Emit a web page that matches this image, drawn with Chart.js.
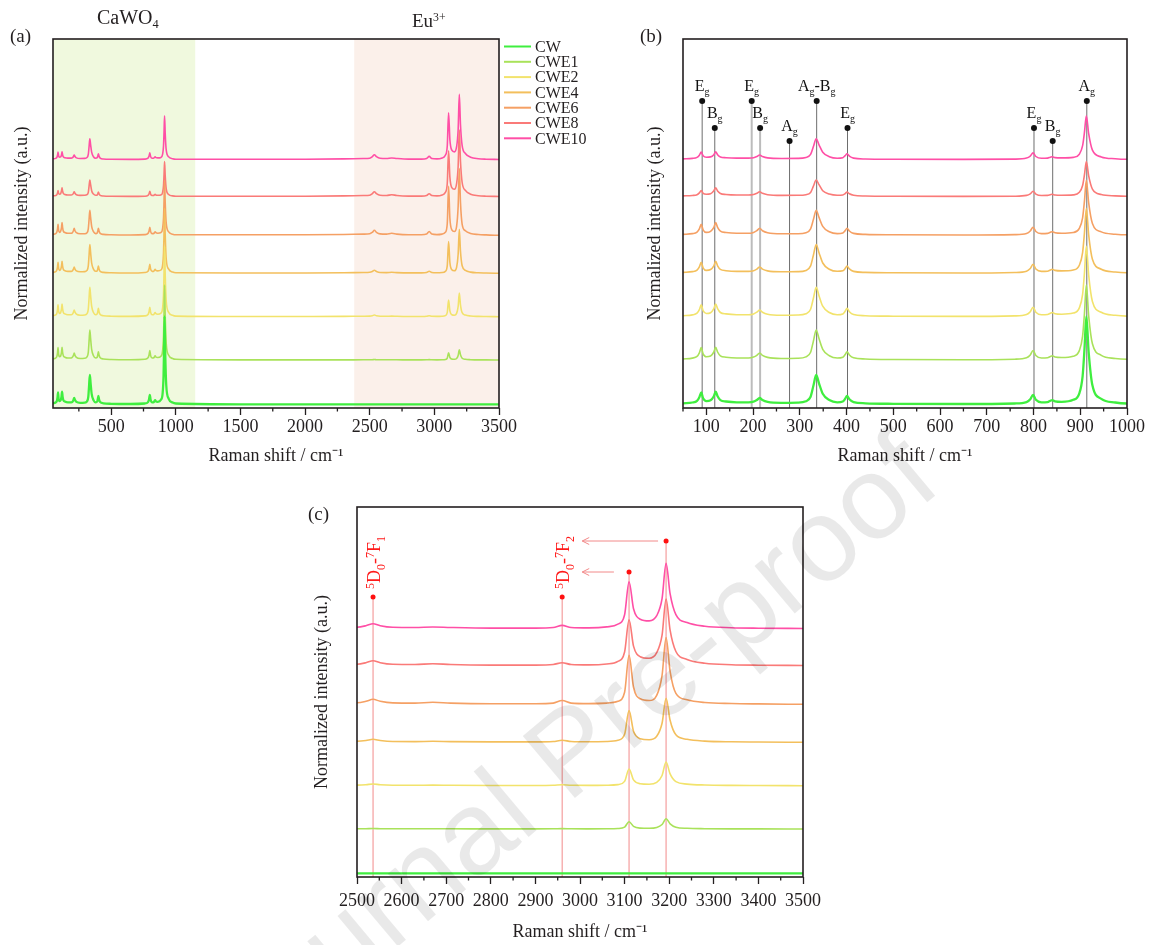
<!DOCTYPE html>
<html>
<head>
<meta charset="utf-8">
<title>Raman spectra of CaWO4:Eu3+</title>
<script src="https://cdn.jsdelivr.net/npm/chart.js@4.4.1/dist/chart.umd.min.js"></script>
<style>
  html, body { margin: 0; padding: 0; background: #ffffff; }
  #page { position: relative; width: 1152px; height: 945px; overflow: hidden;
          font-family: "Liberation Serif", "Times New Roman", serif; color: #231f20; }
  #page canvas { position: absolute; }
  .lbl { position: absolute; white-space: nowrap; line-height: 1; }
  .lbl sub { font-size: 0.62em; vertical-align: -0.3em; line-height: 0; }
  .lbl sup { font-size: 0.62em; vertical-align: 0.55em; line-height: 0; }
  #wm { position: absolute; white-space: nowrap; font-family: "Liberation Sans", Arial, sans-serif;
        font-size: 118px; line-height: 1; color: rgba(0,0,0,0.085);
        transform-origin: 0 100px; transform: rotate(-40deg); left: 246px; top: 974px; pointer-events: none; }
</style>
</head>
<body>
<div id="page">
  <canvas id="panelA" width="600" height="470" style="left:0;top:0"></canvas>
  <canvas id="panelB" width="552" height="470" style="left:600px;top:0"></canvas>
  <canvas id="panelC" width="560" height="465" style="left:290px;top:480px"></canvas>
  <div class="lbl" style="left:10px;top:26px;font-size:19px">(a)</div>
  <div class="lbl" style="left:640px;top:26px;font-size:19px">(b)</div>
  <div class="lbl" style="left:308px;top:504px;font-size:19px">(c)</div>
  <div class="lbl" style="left:97px;top:7px;font-size:20px">CaWO<sub>4</sub></div>
  <div class="lbl" style="left:412px;top:11px;font-size:19px">Eu<sup>3+</sup></div>
  <div id="wm">Journal Pre-proof</div>
</div>
<script>
// Raman shift grid (cm-1): lattice / internal W-O modes, then the Eu3+ luminescence range
const shiftLattice = [50,70,80,85,89,93,100,109,116,120, 124,130,142,165,190,201,208,214,220,231,
  260,295,313,323,329,335,341,349,363,380, 392,397,401,406,415,440,500,650,760,785,
  793,799,805,817,830,836,840,846,860,885, 898,905,909,913,918,926,945,975,1000];
const shiftEu = [1500,2000,2300,2450,2500,2520,2536,2552,2580,2630, 2670,2710,2800,2900,2940,2960,2980,3020,3060,3085,
  3100,3110,3120,3135,3155,3172,3184,3193,3202,3215, 3240,3280,3340,3400,3500];

const samples = ['CW','CWE1','CWE2','CWE4','CWE6','CWE8','CWE10'];

// normalized intensity above each trace's own baseline
const cwLattice = [0.10,0.18,0.35,0.70,1.20,0.60,0.32,0.40,0.80,1.27, 0.80,0.42,0.28,0.20,0.20,0.26,0.42,0.63,0.42,0.24,
  0.15,0.17,0.30,0.75,1.85,2.93,2.10,1.05,0.42,0.20, 0.28,0.55,0.83,0.50,0.22,0.10,0.05,0.03,0.08,0.22,
  0.50,0.95,0.45,0.20,0.22,0.35,0.42,0.30,0.25,0.45, 1.10,2.80,5.50,8.80,5.20,1.90,0.55,0.18,0.08];
const cwe1Lattice = [0.10,0.19,0.36,0.72,1.24,0.62,0.33,0.40,0.80,1.27, 0.80,0.42,0.28,0.20,0.20,0.29,0.46,0.70,0.46,0.26,
  0.15,0.17,0.31,0.77,1.89,3.00,2.14,1.07,0.43,0.20, 0.28,0.55,0.83,0.50,0.22,0.10,0.05,0.03,0.08,0.22,
  0.50,0.95,0.45,0.20,0.22,0.35,0.42,0.30,0.25,0.38, 0.94,2.38,4.68,7.50,4.42,1.62,0.47,0.15,0.07];
const cwe2Lattice = [0.10,0.18,0.35,0.70,1.20,0.60,0.32,0.40,0.80,1.27, 0.80,0.42,0.28,0.20,0.20,0.28,0.45,0.67,0.45,0.25,
  0.15,0.17,0.30,0.75,1.85,2.93,2.10,1.05,0.42,0.20, 0.28,0.55,0.83,0.50,0.22,0.10,0.05,0.03,0.08,0.22,
  0.50,0.95,0.45,0.20,0.22,0.35,0.42,0.30,0.25,0.36, 0.88,2.24,4.40,7.04,4.16,1.52,0.44,0.14,0.06];
const cwe4Lattice = [0.09,0.17,0.32,0.64,1.10,0.55,0.29,0.38,0.75,1.19, 0.75,0.39,0.26,0.19,0.19,0.26,0.42,0.63,0.42,0.24,
  0.15,0.17,0.29,0.74,1.81,2.87,2.06,1.03,0.41,0.20, 0.25,0.48,0.73,0.44,0.19,0.09,0.05,0.03,0.08,0.21,
  0.48,0.90,0.43,0.19,0.21,0.33,0.40,0.29,0.24,0.33, 0.81,2.07,4.07,6.51,3.85,1.41,0.41,0.13,0.06];
const cwe6Lattice = [0.09,0.17,0.32,0.64,1.10,0.55,0.29,0.40,0.80,1.27, 0.80,0.42,0.28,0.20,0.20,0.29,0.46,0.70,0.46,0.26,
  0.15,0.16,0.26,0.64,1.57,2.49,1.79,0.89,0.36,0.17, 0.24,0.47,0.71,0.43,0.19,0.09,0.05,0.03,0.07,0.19,
  0.43,0.81,0.38,0.17,0.19,0.30,0.36,0.26,0.21,0.28, 0.69,1.75,3.44,5.50,3.25,1.19,0.34,0.11,0.05];
const cwe8Lattice = [0.08,0.12,0.20,0.38,0.62,0.34,0.25,0.30,0.60,0.90, 0.57,0.32,0.22,0.17,0.17,0.22,0.34,0.50,0.34,0.20,
  0.13,0.14,0.20,0.43,1.05,1.67,1.20,0.60,0.26,0.14, 0.17,0.31,0.47,0.29,0.14,0.07,0.04,0.03,0.05,0.13,
  0.29,0.54,0.26,0.12,0.13,0.20,0.24,0.17,0.14,0.18, 0.44,1.12,2.20,3.52,2.08,0.76,0.22,0.08,0.04];
const cwe10Lattice = [0.08,0.13,0.23,0.45,0.77,0.40,0.25,0.28,0.50,0.80, 0.50,0.28,0.20,0.16,0.16,0.20,0.32,0.47,0.32,0.18,
  0.12,0.13,0.22,0.53,1.31,2.08,1.49,0.75,0.30,0.15, 0.20,0.40,0.60,0.36,0.16,0.07,0.04,0.03,0.06,0.16,
  0.36,0.68,0.32,0.14,0.16,0.25,0.30,0.21,0.18,0.23, 0.55,1.40,2.75,4.40,2.60,0.95,0.28,0.09,0.04];

const cwEu = [0,0,0,0,0,0,0,0,0,0, 0,0,0,0,0,0,0,0,0,0, 0,0,0,0,0,0,0,0,0,0, 0,0,0,0,0];
const cwe1Eu = [0.01,0.01,0.01,0.02,0.02,0.03,0.05,0.03,0.02,0.02, 0.02,0.02,0.01,0.01,0.02,0.04,0.02,0.01,0.02,0.05,
  0.19,0.73,0.26,0.09,0.07,0.15,0.45,1.03,0.52,0.18, 0.07,0.03,0.01,0.01,0.00];
const cwe2Eu = [0.02,0.02,0.03,0.05,0.06,0.10,0.17,0.10,0.05,0.04, 0.06,0.04,0.02,0.02,0.04,0.10,0.04,0.03,0.05,0.11,
  0.43,1.67,0.58,0.20,0.15,0.33,1.02,2.37,1.18,0.40, 0.16,0.07,0.03,0.02,0.00];
const cwe4Eu = [0.03,0.03,0.05,0.08,0.10,0.18,0.30,0.18,0.08,0.07, 0.10,0.07,0.04,0.04,0.08,0.20,0.08,0.05,0.08,0.20,
  0.80,3.17,1.10,0.36,0.25,0.60,1.90,4.40,2.20,0.75, 0.30,0.12,0.05,0.03,0.00];
const cwe6Eu = [0.05,0.05,0.08,0.12,0.15,0.30,0.50,0.30,0.14,0.12, 0.20,0.12,0.06,0.06,0.12,0.38,0.12,0.07,0.12,0.30,
  1.20,4.90,1.70,0.55,0.38,0.90,2.90,6.67,3.30,1.10, 0.45,0.18,0.08,0.04,0.00];
const cwe8Eu = [0.05,0.05,0.08,0.12,0.15,0.30,0.50,0.30,0.14,0.12, 0.20,0.12,0.06,0.06,0.12,0.30,0.12,0.08,0.17,0.43,
  1.37,4.60,1.96,0.90,0.74,1.30,3.05,6.67,3.55,1.42, 0.63,0.25,0.10,0.05,0.02];
const cwe10Eu = [0.05,0.05,0.08,0.12,0.15,0.30,0.50,0.30,0.14,0.12, 0.17,0.12,0.06,0.06,0.12,0.33,0.12,0.08,0.18,0.45,
  1.40,4.70,2.00,0.95,0.78,1.30,3.00,6.53,3.50,1.40, 0.62,0.25,0.10,0.05,0.02];

// vertical stacking of the traces
const baseline = [0.37, 4.80, 9.13, 13.47, 17.27, 21.13, 24.83];

// tick values
const ticksA = [500,1000,1500,2000,2500,3000,3500];
const minorA = [250,750,1250,1750,2250,2750,3250];
const ticksB = [100,200,300,400,500,600,700,800,900,1000];
const minorB = [50,150,250,350,450,550,650,750,850,950];
const ticksC = [2500,2600,2700,2800,2900,3000,3100,3200,3300,3400,3500];
const minorC = [2550,2650,2750,2850,2950,3050,3150,3250,3350,3450];

// CaWO4 vibrational mode assignments
const modeShift = [91,118,197,215,278,336,402,801,841,914];
const modeLabel = ['E_g','B_g','E_g','B_g','A_g','A_g-B_g','E_g','E_g','B_g','A_g'];
const modeMark  = [30.7,28.0,30.7,28.0,26.7,30.7,28.0,28.0,26.7,30.7];

// Eu3+ 5D0 -> 7FJ transitions
const euShift = [2536,2960,3110,3193];
const euMark  = [28.0,28.0,30.5,33.6];
const euLabel = ['^5D_0-^7F_1','^5D_0-^7F_2'];

const lattice = [cwLattice,cwe1Lattice,cwe2Lattice,cwe4Lattice,cwe6Lattice,cwe8Lattice,cwe10Lattice];
const europium = [cwEu,cwe1Eu,cwe2Eu,cwe4Eu,cwe6Eu,cwe8Eu,cwe10Eu];
const colors = ['#3fee3f','#a9e25a','#f2e36c','#f3bf5c','#f5a064','#fa7a78','#ff4fa6'];
const INK = '#231f20';
const SERIF = '"Liberation Serif", "Times New Roman", serif';

Chart.defaults.font.family = SERIF;
Chart.defaults.color = INK;

function buildDatasets() {
  return samples.map((name, i) => ({
    label: name,
    data: shiftLattice.map((x, k) => ({ x, y: baseline[i] + lattice[i][k] }))
      .concat(shiftEu.map((x, k) => ({ x, y: baseline[i] + europium[i][k] }))),
    borderColor: colors[i],
    borderWidth: i === 0 ? 2.3 : 1.6,
    pointRadius: 0,
    cubicInterpolationMode: 'monotone',
    fill: false
  }));
}

// text with _sub and ^sup single-character tokens
function richParts(str) {
  const parts = [];
  let i = 0;
  while (i < str.length) {
    const c = str[i];
    if (c === '_' || c === '^') { parts.push({ t: str[i + 1], k: c }); i += 2; }
    else {
      let t = '';
      while (i < str.length && str[i] !== '_' && str[i] !== '^') t += str[i++];
      parts.push({ t, k: '' });
    }
  }
  return parts;
}
function drawRich(ctx, str, x, y, size, center) {
  const parts = richParts(str);
  const small = Math.round(size * 0.64);
  const widths = parts.map(p => { ctx.font = (p.k ? small : size) + 'px ' + SERIF; return ctx.measureText(p.t).width; });
  const total = widths.reduce((a, b) => a + b, 0);
  let cx = center ? x - total / 2 : x;
  parts.forEach((p, i) => {
    ctx.font = (p.k ? small : size) + 'px ' + SERIF;
    const dy = p.k === '_' ? size * 0.28 : (p.k === '^' ? -size * 0.36 : 0);
    ctx.fillText(p.t, cx, y + dy);
    cx += widths[i];
  });
}

const framePlugin = {
  id: 'frame',
  afterDatasetsDraw(chart, args, opts) {
    const { ctx, chartArea: a } = chart;
    const xs = chart.scales.x;
    ctx.save();
    ctx.strokeStyle = INK;
    ctx.lineWidth = 1.6;
    ctx.strokeRect(a.left, a.top, a.right - a.left, a.bottom - a.top);
    ctx.lineWidth = 1.3;
    ctx.beginPath();
    (opts.minor || []).forEach(v => {
      const px = xs.getPixelForValue(v);
      ctx.moveTo(px, a.bottom);
      ctx.lineTo(px, a.bottom + 3.5);
    });
    ctx.stroke();
    ctx.restore();
  }
};

const bandPlugin = {
  id: 'bands',
  beforeDatasetsDraw(chart, args, opts) {
    const { ctx, chartArea: a } = chart;
    const xs = chart.scales.x;
    ctx.save();
    (opts.items || []).forEach(b => {
      const x0 = xs.getPixelForValue(b.from), x1 = xs.getPixelForValue(b.to);
      ctx.fillStyle = b.color;
      ctx.fillRect(x0, a.top, x1 - x0, a.bottom - a.top);
    });
    ctx.restore();
  }
};

const legendPlugin = {
  id: 'sampleLegend',
  afterDraw(chart) {
    const ctx = chart.ctx;
    ctx.save();
    ctx.textBaseline = 'middle';
    ctx.font = '16px ' + SERIF;
    chart.data.datasets.forEach((ds, i) => {
      const y = 46.5 + i * 15.3;
      ctx.strokeStyle = ds.borderColor;
      ctx.lineWidth = 2;
      ctx.beginPath(); ctx.moveTo(504, y); ctx.lineTo(531, y); ctx.stroke();
      ctx.fillStyle = INK;
      ctx.fillText(ds.label, 535, y + 1);
    });
    ctx.restore();
  }
};

const modePlugin = {
  id: 'modes',
  beforeDatasetsDraw(chart) {
    const { ctx, chartArea: a } = chart;
    const xs = chart.scales.x, ys = chart.scales.y;
    ctx.save();
    modeShift.forEach((v, i) => {
      const px = xs.getPixelForValue(v), py = ys.getPixelForValue(modeMark[i]);
      const faint = (v === 197 || v === 215);
      ctx.strokeStyle = faint ? '#bcbcbc' : '#6e6e6e';
      ctx.lineWidth = faint ? 2 : 1;
      ctx.beginPath(); ctx.moveTo(px, py); ctx.lineTo(px, a.bottom); ctx.stroke();
    });
    ctx.restore();
  },
  afterDatasetsDraw(chart) {
    const { ctx } = chart;
    const xs = chart.scales.x, ys = chart.scales.y;
    ctx.save();
    ctx.fillStyle = '#111';
    ctx.textBaseline = 'alphabetic';
    modeShift.forEach((v, i) => {
      const px = xs.getPixelForValue(v), py = ys.getPixelForValue(modeMark[i]);
      ctx.beginPath(); ctx.arc(px, py, 3, 0, Math.PI * 2); ctx.fill();
      drawRich(ctx, modeLabel[i], px, py - 10, 16, true);
    });
    ctx.restore();
  }
};

const euPlugin = {
  id: 'euLines',
  beforeDatasetsDraw(chart) {
    const { ctx, chartArea: a } = chart;
    const xs = chart.scales.x, ys = chart.scales.y;
    ctx.save();
    ctx.strokeStyle = '#f28a8a';
    ctx.lineWidth = 1;
    euShift.forEach((v, i) => {
      const px = xs.getPixelForValue(v), py = ys.getPixelForValue(euMark[i]);
      ctx.beginPath(); ctx.moveTo(px, py); ctx.lineTo(px, a.bottom); ctx.stroke();
    });
    ctx.restore();
  },
  afterDatasetsDraw(chart) {
    const { ctx } = chart;
    const xs = chart.scales.x, ys = chart.scales.y;
    ctx.save();
    ctx.fillStyle = '#ff1010';
    euShift.forEach((v, i) => {
      const px = xs.getPixelForValue(v), py = ys.getPixelForValue(euMark[i]);
      ctx.beginPath(); ctx.arc(px, py, 2.5, 0, Math.PI * 2); ctx.fill();
    });
    // arrows from the two strongest lines back towards the 7F2 label
    ctx.strokeStyle = '#f28a8a';
    ctx.lineWidth = 1;
    [[3076, 30.5], [3175, 33.6]].forEach(([from, level]) => {
      const x0 = xs.getPixelForValue(from), x1 = xs.getPixelForValue(3005), y = ys.getPixelForValue(level);
      ctx.beginPath();
      ctx.moveTo(x0, y); ctx.lineTo(x1, y);
      ctx.moveTo(x1 + 7, y - 3.5); ctx.lineTo(x1, y); ctx.lineTo(x1 + 7, y + 3.5);
      ctx.stroke();
    });
    ctx.fillStyle = '#ff1a1a';
    ctx.textBaseline = 'alphabetic';
    euLabel.forEach((txt, i) => {
      const px = xs.getPixelForValue(euShift[i]), py = ys.getPixelForValue(euMark[i]);
      ctx.save();
      ctx.translate(px, py - 8);
      ctx.rotate(-Math.PI / 2);
      drawRich(ctx, txt, 0, 7, 18, false);
      ctx.restore();
    });
    ctx.restore();
  }
};

function panel(id, cfg) {
  return new Chart(document.getElementById(id), {
    type: 'line',
    data: { datasets: buildDatasets() },
    options: {
      responsive: false,
      animation: false,
      events: [],
      layout: { padding: cfg.pad },
      plugins: {
        legend: { display: false },
        tooltip: { enabled: false },
        frame: { minor: cfg.minor },
        bands: { items: cfg.bands || [] }
      },
      scales: {
        x: {
          type: 'linear', min: cfg.xMin, max: cfg.xMax,
          afterBuildTicks: s => { s.ticks = cfg.ticks.map(v => ({ value: v })); },
          afterFit: s => { s.height = cfg.xHeight; },
          border: { display: false },
          grid: { drawOnChartArea: false, drawTicks: true, tickLength: 7, tickWidth: 1.3, tickColor: INK },
          ticks: { font: { size: 18 }, padding: cfg.tickPad, maxRotation: 0, autoSkip: false, callback: v => String(v) },
          title: { display: true, text: 'Raman shift / cm⁻¹', font: { size: 18 }, padding: { top: 0, bottom: cfg.titlePad } }
        },
        y: {
          min: 0, max: cfg.yMax,
          afterFit: s => { s.width = cfg.yWidth; },
          border: { display: false },
          grid: { display: false },
          ticks: { display: false },
          title: { display: true, text: 'Normalized intensity (a.u.)', font: { size: 18 }, padding: { top: cfg.yTitlePad, bottom: 0 } }
        }
      }
    },
    plugins: cfg.plugins
  });
}

panel('panelA', {
  xMin: 50, xMax: 3500, ticks: ticksA, minor: minorA, yMax: 36.9,
  pad: { left: 0, top: 39, right: 101, bottom: 0 }, xHeight: 62, yWidth: 53,
  tickPad: 1, titlePad: 3, yTitlePad: 11,
  bands: [{ from: 50, to: 1150, color: '#f0f9de' }, { from: 2380, to: 3500, color: '#fbf0ea' }],
  plugins: [bandPlugin, framePlugin, legendPlugin]
});

panel('panelB', {
  xMin: 50, xMax: 1000, ticks: ticksB, minor: minorB, yMax: 36.9,
  pad: { left: 0, top: 39, right: 25, bottom: 0 }, xHeight: 62, yWidth: 83,
  tickPad: 1, titlePad: 3, yTitlePad: 44,
  plugins: [modePlugin, framePlugin]
});

panel('panelC', {
  xMin: 2500, xMax: 3500, ticks: ticksC, minor: minorC, yMax: 37,
  pad: { left: 0, top: 27, right: 47, bottom: 0 }, xHeight: 68, yWidth: 67,
  tickPad: 6, titlePad: 2, yTitlePad: 21,
  plugins: [euPlugin, framePlugin]
});
</script>
</body>
</html>
